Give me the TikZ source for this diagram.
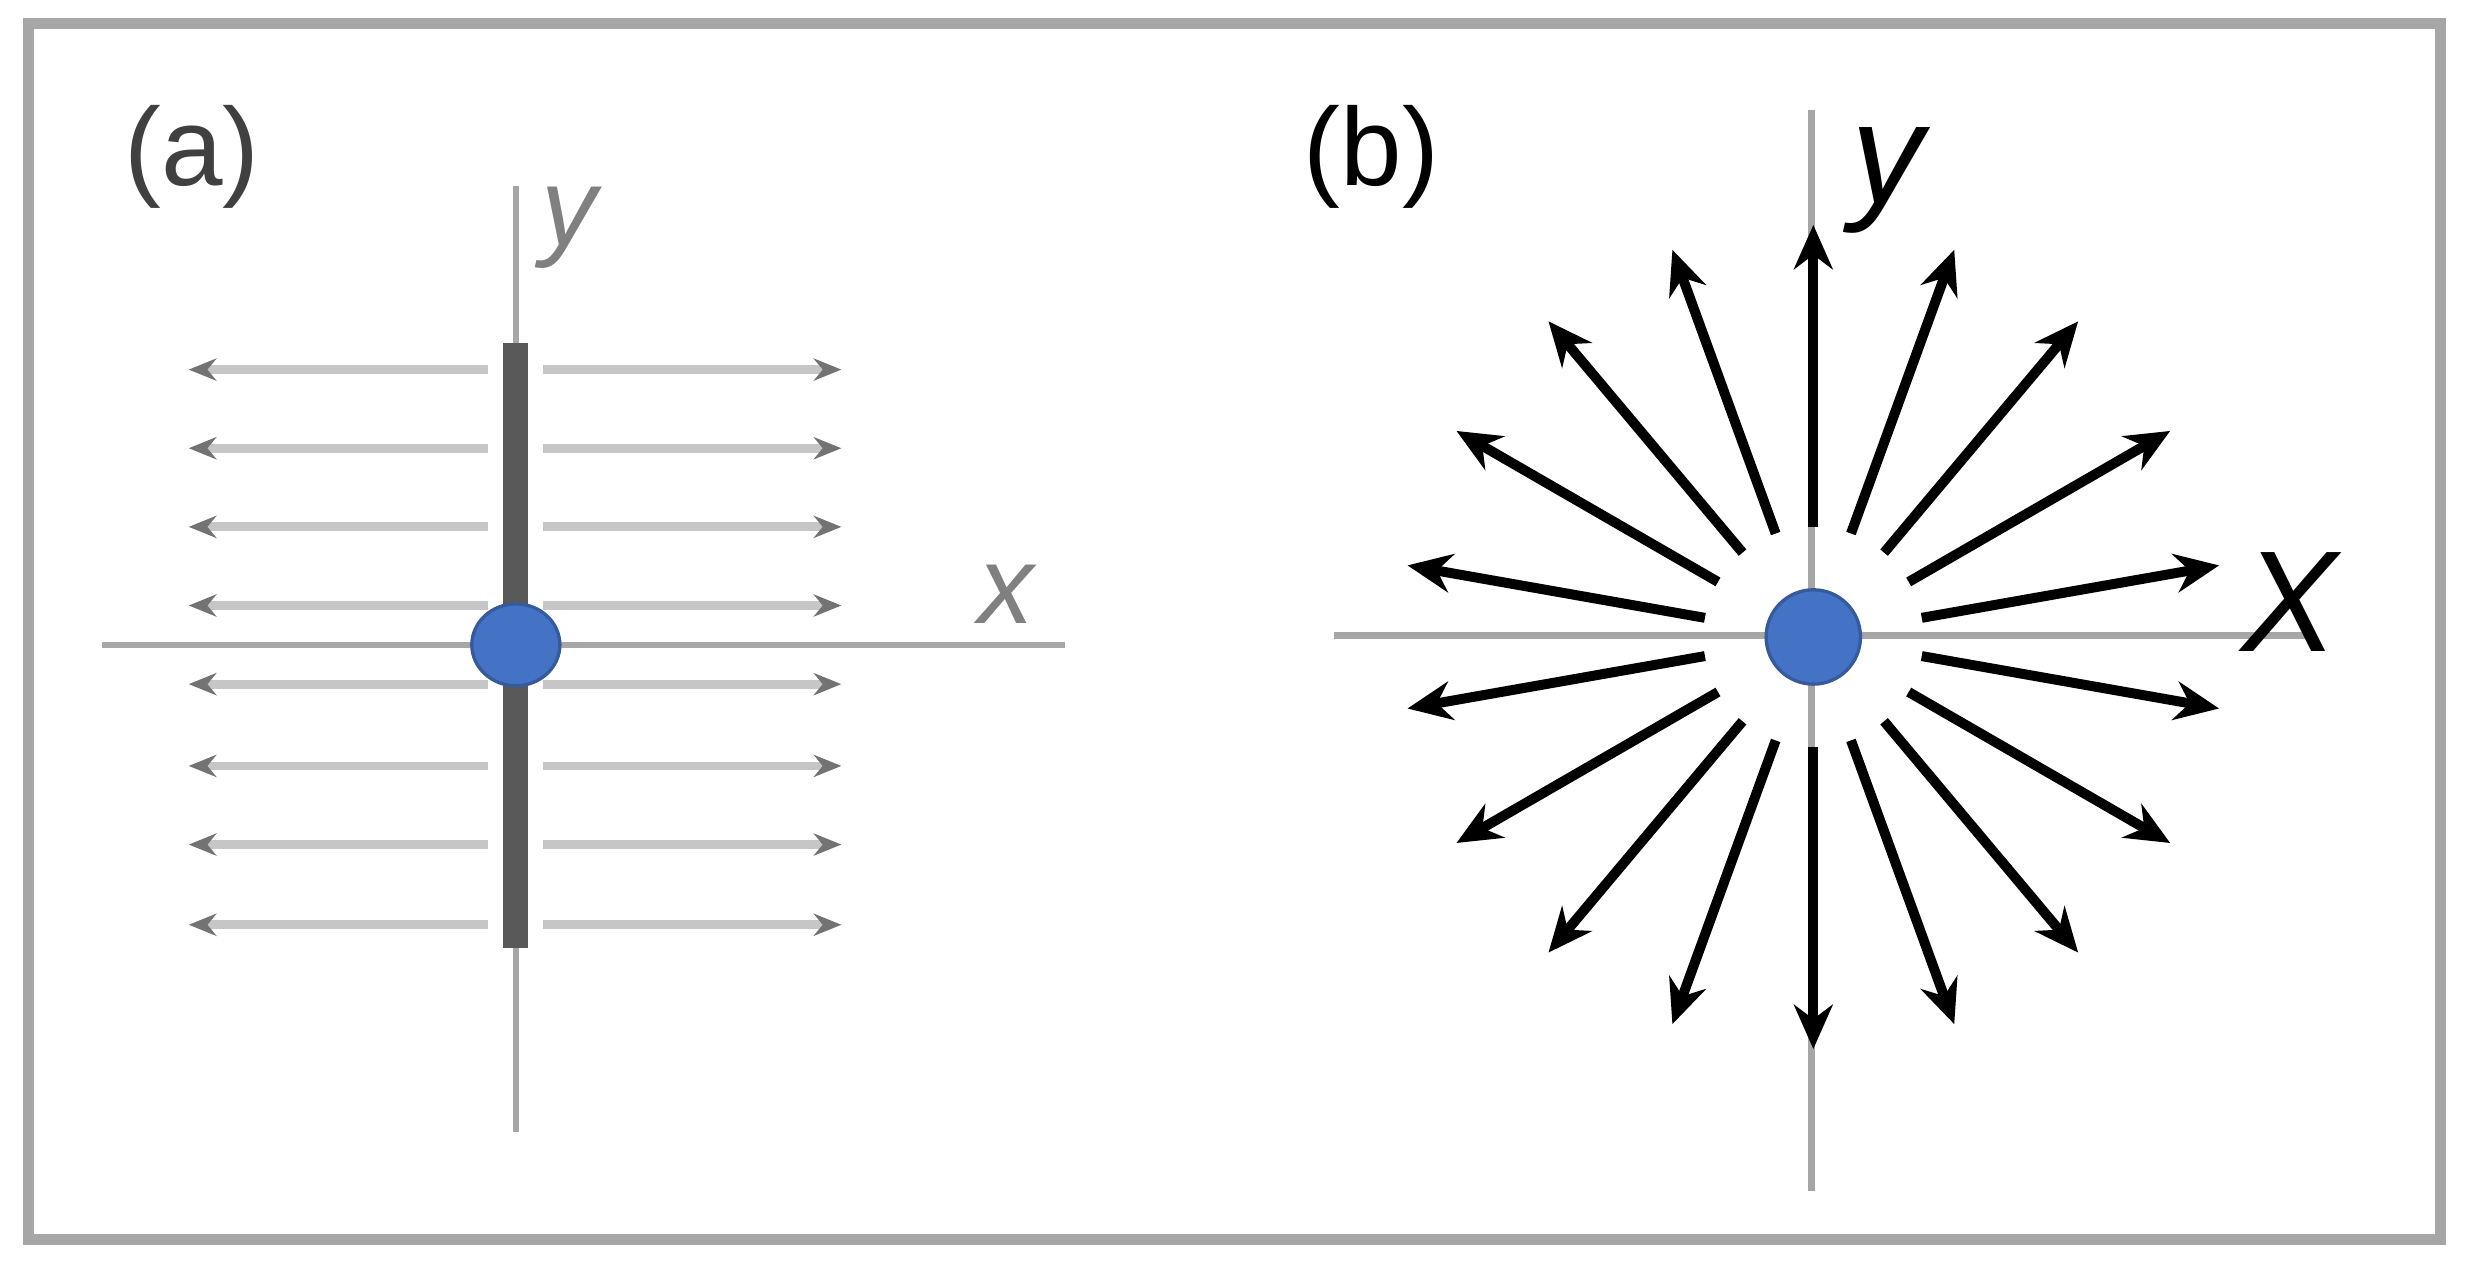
\documentclass[tikz,border=0pt]{standalone}
\usepackage{fontspec}
\setmainfont{Liberation Sans}
\usetikzlibrary{arrows.meta,calc}
\definecolor{dotblue}{HTML}{4472C4}
\begin{document}
\begin{tikzpicture}[x=0.01cm,y=-0.01cm,
  axis/.style={draw=gray!70,line width=1.2pt},
  fa/.style={draw=gray!45,line width=1.6pt,-{Stealth[length=5pt,width=4pt,color=gray!90!black]}},
  fb/.style={draw=black,line width=1.8pt,-{Stealth[length=8pt,width=7pt]}},
  dot/.style={fill=dotblue,draw=dotblue!80!black,line width=0.6pt},
  lbl/.style={font=\fontsize{20}{24}\selectfont}]
\useasboundingbox (0,0) rectangle (1568,805);
\draw[gray!70,line width=2pt] (18,15) rectangle (1552,788);
% panel a
\node[lbl,text=black!75] (la) at (122,100) {(a)};
\draw[axis] (328,118) coordinate (ya1) -- (328,720) coordinate (ya2);
\draw[axis] (65,410) coordinate (xa1) -- (677,410) coordinate (xa2);
\draw[draw=black!65,line width=4.5pt] (328,218) -- (328,603);
\foreach \yy in {235,285,335,385,435,487,537,588}{
  \draw[fa] (310,\yy) -- (120,\yy);
  \draw[fa] (345,\yy) -- (535,\yy);
}
\fill[dot] (328,410) ellipse (28 and 26);
\node[text=gray,font=\fontsize{20}{24}\selectfont\itshape] (ly) at (362,145) {y};
\node[text=gray,font=\fontsize{20}{24}\selectfont\itshape] (lx) at (640,378) {x};
% panel b
\node[lbl,text=black] (lb) at (872,100) {(b)};
\draw[axis] (1152,70) -- (1152,757);
\draw[axis] (848,404) -- (1470,404);
\coordinate (c) at (1153,405);
\foreach \a in {10,30,...,350}{
  \draw[fb] ($(c)+(\a:70)$) -- ($(c)+(\a:262)$);
}
\fill[dot] (c) circle (30);
\node[font=\fontsize{26}{30}\selectfont\itshape] (by) at (1200,115) {y};
\node[font=\fontsize{26}{30}\selectfont\itshape] (bx) at (1456,383) {X};
\end{tikzpicture}
\end{document}
